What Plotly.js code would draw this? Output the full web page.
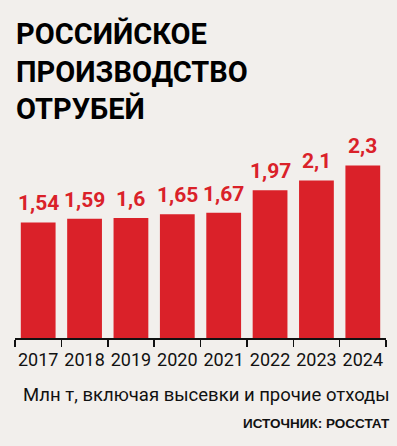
<!DOCTYPE html>
<html>
<head>
<meta charset="utf-8">
<script src="https://cdn.plot.ly/plotly-3.0.1.min.js"></script>
<style>html,body{margin:0;padding:0;background:#f2efec;}</style>
</head>
<body>
<div id="chart" style="width:397px;height:446px;"></div>
<script>
const years = ["2017", "2018", "2019", "2020", "2021", "2022", "2023", "2024"];
const values = [1.54, 1.59, 1.6, 1.65, 1.67, 1.97, 2.1, 2.3];
const valueLabels = ["1,54", "1,59", "1,6", "1,65", "1,67", "1,97", "2,1", "2,3"];
const titleText = "РОССИЙСКОЕ<br>ПРОИЗВОДСТВО<br>ОТРУБЕЙ";
const unitText = "Млн т, включая высевки и прочие отходы";
const sourceText = "ИСТОЧНИК: РОССТАТ";

const RED = "#da2129";
const FONT = "Roboto, 'DejaVu Sans Condensed', sans-serif";

const annotations = years.map((y, i) => ({
  x: i, y: values[i], xref: "x", yref: "y",
  text: valueLabels[i], showarrow: false,
  yanchor: "bottom", yshift: 5,
  font: {family: FONT, size: 21, color: RED, weight: 700}
}));
annotations.push({
  xref: "paper", yref: "paper", x: 1, y: -0.274, xanchor: "right", yanchor: "middle",
  xshift: 6,
  text: unitText, showarrow: false,
  font: {family: FONT, size: 18.5, color: "#111"}
});
annotations.push({
  xref: "paper", yref: "paper", x: 1, y: -0.411, xanchor: "right", yanchor: "middle",
  xshift: 6,
  text: sourceText, showarrow: false,
  font: {family: "'Liberation Sans', 'DejaVu Sans', sans-serif", size: 13.5, color: "#111", weight: 700}
});
annotations.push({
  xref: "paper", yref: "paper", x: 0, y: 1.553, xanchor: "left", yanchor: "top",
  xshift: -1,
  text: titleText, showarrow: false, align: "left",
  font: {family: FONT, size: 29, color: "#000", weight: 700}
});

const trace = {
  type: "bar", x: years, y: values,
  marker: {color: RED},
  hoverinfo: "skip"
};

const layout = {
  width: 397, height: 446,
  paper_bgcolor: "#f2efec", plot_bgcolor: "#f2efec",
  margin: {l: 15, r: 11, t: 130, b: 108},
  bargap: 0.25,
  showlegend: false,
  xaxis: {
    type: "category", range: [-0.5, 7.5],
    showline: true, linecolor: "#111", linewidth: 2,
    ticks: "outside", tickson: "boundaries", ticklen: 7, tickcolor: "#111", tickwidth: 1.5,
    tickangle: 0, ticklabelstandoff: 4,
    tickfont: {family: FONT, size: 18, color: "#111"},
    showgrid: false, zeroline: false, fixedrange: true
  },
  yaxis: {
    range: [0, 2.773], visible: false, showgrid: false, zeroline: false, fixedrange: true
  },
  annotations: annotations
};

Plotly.newPlot("chart", [trace], layout, {displayModeBar: false, staticPlot: true});
</script>
</body>
</html>
